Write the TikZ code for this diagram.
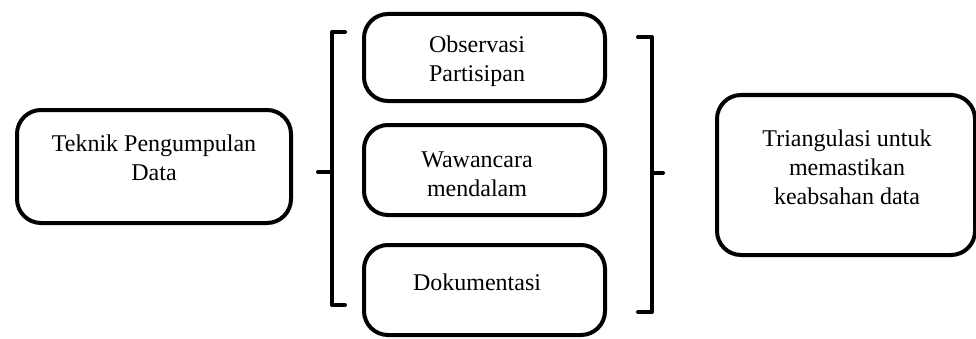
\documentclass[tikz,border=0pt]{standalone}
\usepackage{fontspec}
\setmainfont{Liberation Serif}
\begin{document}
\begin{tikzpicture}[x=1pt,y=1pt,
  box/.style={draw=black,line width=4pt,rounded corners=24pt,fill=white},
  txt/.style={align=center,font=\fontsize{24}{29}\selectfont,inner sep=0pt},
  brk/.style={draw=black,line width=4pt,line cap=round,line join=round}]
\useasboundingbox (0,0) rectangle (976,338);
% left box
\node[box,minimum width=274pt,minimum height=113pt] (left) at (154,171.5) {};
\node[txt] (lefttxt) at (154,180.5) {Teknik Pengumpulan\\Data};
% middle boxes
\node[box,minimum width=241pt,minimum height=87pt] (b1) at (484.5,280.5) {};
\node[txt] (b1t) at (477,277) {Observasi\\Partisipan};
\node[box,minimum width=241pt,minimum height=90pt] (b2) at (484.5,168) {};
\node[txt] (b2t) at (477,164) {Wawancara\\mendalam};
\node[box,minimum width=241pt,minimum height=90pt] (b3) at (484.5,48) {};
\node[txt] (b3t) at (477,56) {Dokumentasi};
% right box
\node[box,minimum width=258pt,minimum height=160pt] (right) at (846,163) {};
\node[txt] (righttxt) at (847,171) {Triangulasi untuk\\memastikan\\keabsahan data};
% left bracket
\draw[brk] (345,306) -- (332,306) -- (332,33) -- (345,33);
\draw[brk] (332,166) -- (318,166);
% right bracket
\draw[brk] (638,301) -- (652,301) -- (652,26) -- (638,26);
\draw[brk] (652,165) -- (663,165);
\end{tikzpicture}
\end{document}
